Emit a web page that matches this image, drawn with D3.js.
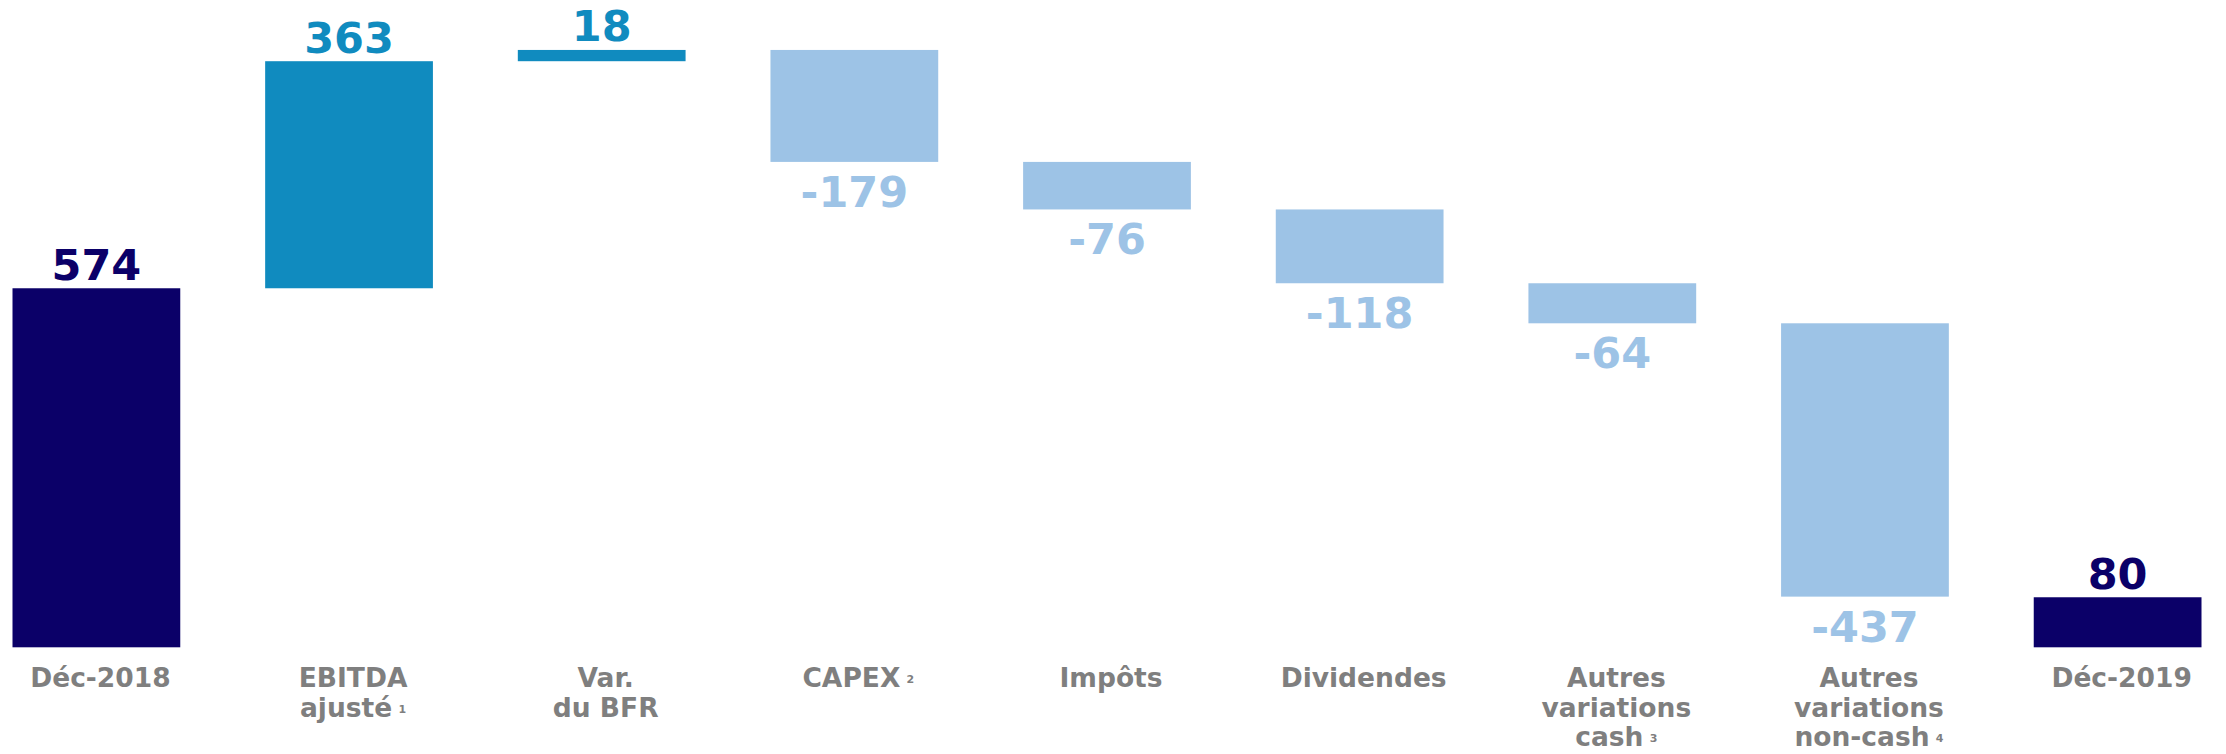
<!DOCTYPE html>
<html>
<head>
<meta charset="utf-8">
<script src="https://cdn.jsdelivr.net/npm/d3@7"></script>
<style>
  body { margin: 0; background: #fff; }
  text { font-family: "DejaVu Sans", Verdana, sans-serif; font-weight: bold; }
</style>
</head>
<body>
<script>
// waterfall: cash flow Déc-2018 -> Déc-2019
var categories = ['Déc-2018', 'EBITDA ajusté', 'Var. du BFR', 'CAPEX', 'Impôts',
  'Dividendes', 'Autres variations cash', 'Autres variations non-cash', 'Déc-2019'];
var labelLines = [
  ['Déc-2018'],
  ['EBITDA', 'ajusté'],
  ['Var.', 'du BFR'],
  ['CAPEX'],
  ['Impôts'],
  ['Dividendes'],
  ['Autres', 'variations', 'cash'],
  ['Autres', 'variations', 'non-cash'],
  ['Déc-2019']
];
var footnotes = ['', '1', '', '2', '', '', '3', '4', ''];
var values = [574, 363, 18, -179, -76, -118, -64, -437, 80];
var kinds = ['total', 'up', 'up', 'down', 'down', 'down', 'down', 'down', 'total'];

var WIDTH = 2226;
var HEIGHT = 754;

var colors = {total: '#0b0068', up: '#108bbf', down: '#9dc3e6'};

// running totals
var bars = [];
var running = 0;
values.forEach(function(v, i) {
  var k = kinds[i];
  var lo, hi;
  if (k === 'total') {
    lo = 0; hi = v; running = v;
  } else {
    var next = running + v;
    lo = Math.min(running, next);
    hi = Math.max(running, next);
    running = next;
  }
  bars.push({cat: categories[i], value: v, kind: k, lo: lo, hi: hi,
    lines: labelLines[i], note: footnotes[i]});
});

var x = d3.scaleBand()
  .domain(categories)
  .range([12.5, 2201.5])
  .paddingInner(0.336)
  .paddingOuter(0);

var y = d3.scaleLinear()
  .domain([0, 1000])
  .range([647.3, 21.8]);

var svg = d3.select('body')
  .append('svg')
  .attr('width', WIDTH)
  .attr('height', HEIGHT);

svg.selectAll('rect')
  .data(bars)
  .enter()
  .append('rect')
  .attr('x', function(d) { return x(d.cat); })
  .attr('width', x.bandwidth())
  .attr('y', function(d) { return y(d.hi); })
  .attr('height', function(d) { return y(d.lo) - y(d.hi); })
  .attr('fill', function(d) { return colors[d.kind]; });

// value labels: above for totals / increases, below for decreases
svg.selectAll('text.value')
  .data(bars)
  .enter()
  .append('text')
  .attr('class', 'value')
  .attr('x', function(d) { return x(d.cat) + x.bandwidth() / 2; })
  .attr('y', function(d) {
    return d.kind === 'down' ? y(d.lo) + 45 : y(d.hi) - 8.5;
  })
  .attr('text-anchor', 'middle')
  .attr('font-size', 43)
  .attr('fill', function(d) { return colors[d.kind]; })
  .text(function(d) { return d.value; });

// category labels
var cat = svg.selectAll('g.cat')
  .data(bars)
  .enter()
  .append('g')
  .attr('class', 'cat')
  .attr('transform', function(d) {
    return 'translate(' + (x(d.cat) + x.bandwidth() / 2 + 4) + ',687)';
  });

cat.each(function(d) {
  var g = d3.select(this);
  d.lines.forEach(function(line, i) {
    var t = g.append('text')
      .attr('y', i * 29.5)
      .attr('text-anchor', 'middle')
      .attr('font-size', 26.5)
      .attr('fill', '#7f7f7f');
    t.append('tspan').text(line);
    if (d.note && i === d.lines.length - 1) {
      t.append('tspan').text(' ').attr('font-size', 18);
      t.append('tspan')
        .attr('font-size', 11)
        .attr('dy', -4)
        .text(d.note);
    }
  });
});
</script>
</body>
</html>
